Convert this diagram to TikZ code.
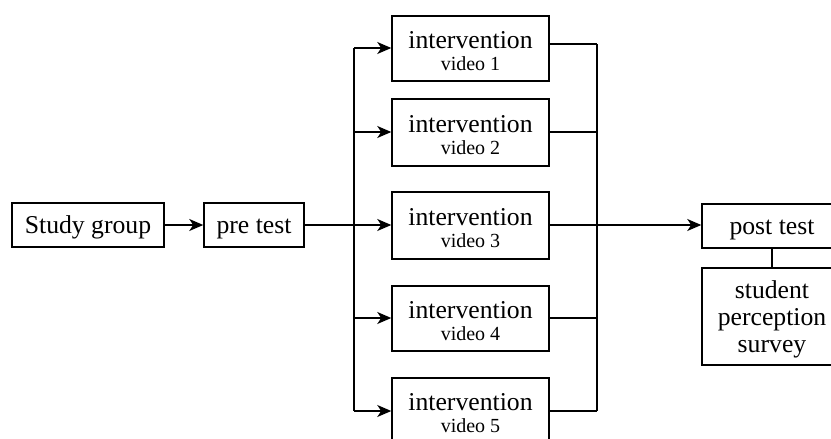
\documentclass[tikz,border=0pt]{standalone}
\usepackage{fontspec}
\setmainfont{Liberation Serif}
\usetikzlibrary{arrows.meta}
\tikzset{
  box/.style={draw, line width=1.5pt, rectangle, inner sep=0pt, align=center,
    font=\fontsize{25.7}{27}\selectfont},
  onebox/.style={box, minimum height=44pt, text height=17pt, text depth=0pt},
  ivbox/.style={box, minimum width=157pt, minimum height=66pt},
  conn/.style={line width=1.5pt},
  arr/.style={conn, -{Stealth[length=14pt, width=12pt, inset=4pt]}},
}
\newcommand{\ivtext}[1]{\rule{0pt}{21.5pt}intervention\\[-5pt]{\fontsize{20}{23}\selectfont video #1}}
\begin{document}
\begin{tikzpicture}[x=1pt, y=-1pt]
\clip (0,0) rectangle (831,439);
\fill[white] (0,0) rectangle (831,439);
\node[onebox, minimum width=152pt] (sg) at (88,225) {Study group};
\node[onebox, minimum width=100pt] (pre) at (254,225) {pre test};
\node[ivbox, minimum height=65pt] (v1) at (470.5,48.5) {\ivtext{1}};
\node[ivbox, minimum height=67pt] (v2) at (470.5,132.5) {\ivtext{2}};
\node[ivbox, minimum height=67pt] (v3) at (470.5,225.5) {\ivtext{3}};
\node[ivbox, minimum height=65pt] (v4) at (470.5,318.5) {\ivtext{4}};
\node[ivbox, minimum height=66pt] (v5) at (470.5,411) {\ivtext{5}};
\node[onebox, minimum width=140pt] (post) at (772,226) {post test};
\node[box, minimum width=140pt, minimum height=97pt, text depth=0pt] (sv) at (772,316.5) {student\\perception\\survey};
\coordinate (b1) at (354,48);
\coordinate (b2) at (354,132);
\coordinate (b3) at (354,225);
\coordinate (b4) at (354,318);
\coordinate (b5) at (354,411);
\coordinate (m1) at (597,44);
\coordinate (m2) at (597,132);
\coordinate (m3) at (597,225);
\coordinate (m4) at (597,318);
\coordinate (m5) at (597,411);
\draw[arr] (sg) -- (pre);
\draw[conn] (pre.east) -- (b3);
\draw[conn] (b1) -- (b5);
\foreach \i in {1,...,5} {\draw[arr] (b\i) -- (v\i.west |- b\i);}
\foreach \i in {1,...,5} {\draw[conn] (v\i.east |- m\i) -- (m\i);}
\draw[conn] (m1) -- (m5);
\draw[arr] (m3) -- (post.west |- m3);
\draw[conn] (post) -- (sv);
\end{tikzpicture}
\end{document}
